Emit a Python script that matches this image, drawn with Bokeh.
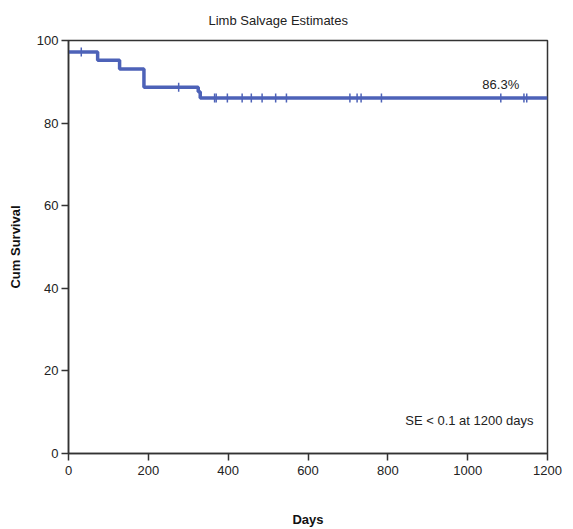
import numpy as np
from bokeh.plotting import figure
from bokeh.models import Label
from bokeh.embed import file_html
from bokeh.resources import INLINE

# Kaplan-Meier step data (days, cumulative survival %)
step_days = [0, 73, 128, 189, 325, 330, 1200]
step_surv = [97.2, 95.2, 93.1, 88.7, 87.6, 86.1, 86.1]

# censored observations (days)
censor_days = [32, 276, 366, 370, 398, 435, 458, 485, 519, 546,
               705, 723, 733, 784, 1083, 1141, 1148]

x_ticks = [0, 200, 400, 600, 800, 1000, 1200]
y_ticks = [0, 20, 40, 60, 80, 100]

title_text = "Limb Salvage Estimates"
final_label = "86.3%"
se_note = "SE < 0.1 at 1200 days"

FONT = "Liberation Sans"
BLUE = "#4d62b8"
DARK = "#333333"

p = figure(width=573, height=529, x_range=(0, 1200), y_range=(0, 100),
           output_backend="svg", toolbar_location=None,
           min_border_left=68, min_border_right=26, min_border_top=40,
           min_border_bottom=76, background_fill_color="white",
           border_fill_color="white")

p.title.text = title_text
p.title.text_font = FONT
p.title.text_font_size = "13px"
p.title.text_font_style = "normal"
p.title.text_color = "#222222"
p.title.align = "left"
p.title.vertical_align = "top"
p.title.offset = 140
p.title.standoff = 22

p.xgrid.visible = False
p.ygrid.visible = False
p.outline_line_color = DARK
p.outline_line_width = 1.5

for ax in (p.xaxis[0], p.yaxis[0]):
    ax.axis_line_color = DARK
    ax.axis_line_width = 1.5
    ax.major_tick_line_color = DARK
    ax.major_tick_line_width = 1.5
    ax.major_tick_out = 7
    ax.major_tick_in = 0
    ax.minor_tick_line_color = None
    ax.major_label_text_font = FONT
    ax.major_label_text_font_size = "13px"
    ax.major_label_text_color = "#222222"
    ax.axis_label_text_font = FONT
    ax.axis_label_text_font_size = "13px"
    ax.axis_label_text_font_style = "bold"
    ax.axis_label_text_color = "#111111"

p.xaxis.ticker = x_ticks
p.yaxis.ticker = y_ticks
p.xaxis.axis_label = "Days"
p.yaxis.axis_label = "Cum Survival"
p.xaxis.axis_label_standoff = 34
p.yaxis.axis_label_standoff = 11
p.xaxis.major_label_standoff = 5
p.yaxis.major_label_standoff = 3

p.step(step_days, step_surv, mode="after", line_color=BLUE, line_width=3.5)

# survival level at each censored time
sd = np.array(step_days)
ss = np.array(step_surv)
idx = np.searchsorted(sd, np.array(censor_days), side="right") - 1
cy = ss[idx]
p.scatter(censor_days, cy, marker="dash", angle=np.pi / 2, size=9,
          line_color=BLUE, line_width=1.5)

p.add_layout(Label(x=step_days[-1] - 117, y=step_surv[-1] + 1.5, text=final_label,
                   text_font=FONT, text_font_size="13px", text_color="#222222",
                   text_align="center", text_baseline="bottom"))
p.add_layout(Label(x=1165, y=8, text=se_note,
                   text_font=FONT, text_font_size="13px", text_color="#222222",
                   text_align="right", text_baseline="middle"))

open("out.html", "w").write(file_html(p, INLINE))
